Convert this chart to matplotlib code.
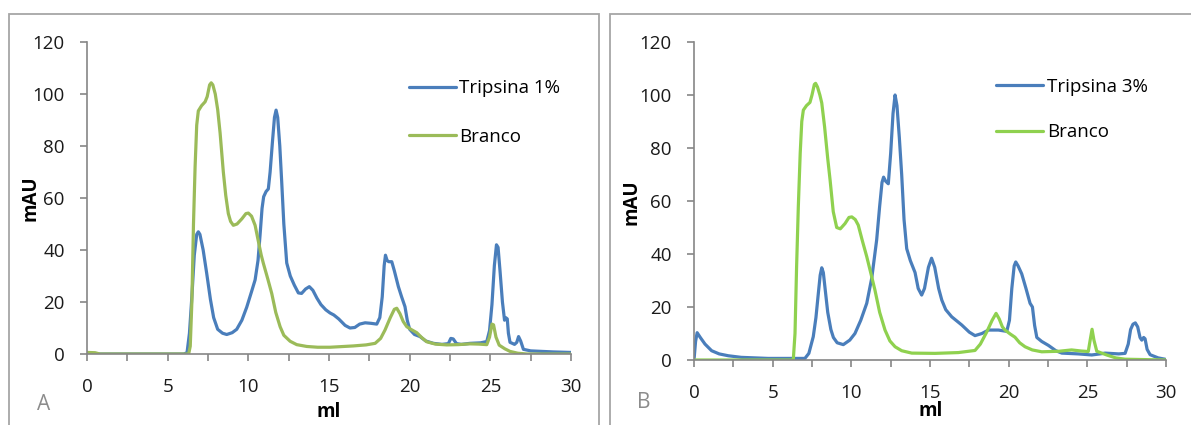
import matplotlib
matplotlib.use("Agg")
import matplotlib.pyplot as plt
from matplotlib.patches import Rectangle

plt.rcParams['font.family'] = ['Open Sans', 'DejaVu Sans']

# ---------------- Data ----------------
# Panel A: Tripsina 1%
a_tri_x = [0, 6.0, 6.2, 6.35, 6.5, 6.65, 6.8, 6.9, 7.0, 7.2, 7.42, 7.65, 7.85, 8.1, 8.4,
           8.66, 9.0, 9.28, 9.6, 9.9, 10.2, 10.42, 10.6, 10.73, 10.85, 10.95, 11.1, 11.24,
           11.35, 11.5, 11.62, 11.72, 11.82, 11.95, 12.07, 12.2, 12.38, 12.6, 12.85, 13.1,
           13.3, 13.55, 13.78, 14.0, 14.25, 14.5, 14.8, 15.06, 15.3, 15.6, 16.0, 16.3,
           16.6, 16.9, 17.24, 17.6, 17.96, 18.15, 18.3, 18.42, 18.5, 18.6, 18.7, 18.89,
           19.05, 19.3, 19.5, 19.71, 19.85, 20.0, 20.3, 20.64, 21.0, 21.47, 22.0, 22.4,
           22.55, 22.7, 22.9, 23.2, 23.74, 24.4, 24.78, 24.95, 25.1, 25.25, 25.38, 25.48,
           25.6, 25.75, 25.88, 25.95, 26.05, 26.12, 26.22, 26.5, 26.64, 26.75, 26.88,
           27.05, 27.5, 28.9, 30.0]
a_tri_y = [0, 0, 0.5, 8, 22, 38, 46, 47, 46, 40, 31, 21, 14, 9.5, 8,
           7.5, 8.2, 9.5, 13, 18, 24, 28.5, 36, 46, 56, 60.5, 62.5, 63.5,
           70, 82, 91, 93.8, 91, 80, 66, 50, 35, 30, 26.5, 23.5,
           23.3, 25, 25.9, 24.5, 21.5, 19, 17, 15.8, 15, 13.5, 11, 10,
           10.2, 11.5, 12, 11.8, 11.5, 14, 22, 34, 38, 36, 35.5, 35.5,
           32, 25.9, 22, 18.2, 13, 9.5, 7.5, 6.7, 5, 4.1, 3.7, 4,
           6, 5.8, 4, 3.7, 4.1, 4.3, 4.8, 9, 19, 34, 42, 41,
           32, 20, 13, 14, 13.5, 8, 4.5, 3.7, 4.5, 6.7, 5,
           1.8, 1.2, 0.8, 0.6]
# Panel A: Branco
a_bra_x = [0, 0.5, 0.8, 6.3, 6.4, 6.5, 6.6, 6.7, 6.8, 6.9, 7.1, 7.32, 7.45, 7.6, 7.7, 7.8,
           7.95, 8.1, 8.25, 8.45, 8.6, 8.76, 8.9, 9.07, 9.3, 9.6, 9.85, 10.0, 10.2, 10.42,
           10.6, 10.8, 10.93, 11.2, 11.45, 11.7, 11.97, 12.2, 12.59, 13.0, 13.62, 14.3,
           15.06, 16.5, 17.3, 17.86, 18.2, 18.47, 18.8, 19.05, 19.2, 19.4, 19.6, 19.82,
           20.1, 20.44, 20.75, 21.06, 21.6, 22.3, 23.0, 23.74, 24.3, 24.78, 24.95, 25.1,
           25.2, 25.35, 25.55, 25.9, 26.22, 26.7, 27.26, 30.0]
a_bra_y = [0.6, 0.5, 0, 0, 3, 20, 50, 72, 88, 93.5, 95.5, 97, 99, 103.5, 104.3, 103.5,
           100, 94, 85, 70, 61, 54, 51, 49.5, 50, 52, 54, 54.2, 53, 49.5,
           44, 38, 34.9, 29, 23.3, 16, 10.5, 7.2, 4.9, 3.6, 2.9, 2.6,
           2.6, 3.1, 3.5, 4.1, 6, 9.2, 14, 17.2, 17.6, 15.5, 12.5, 10.5,
           9.4, 8.2, 6.3, 4.7, 3.8, 3.5, 3.6, 3.9, 3.8, 3.6, 6.5, 11.5,
           11.2, 6.5, 3.4, 2, 1, 0.3, 0, 0]

# Panel B: Tripsina 3%
b_tri_x = [0, 0.1, 0.2, 0.4, 0.7, 1.12, 1.6, 2.18, 3.0, 4.72, 7.05, 7.3, 7.58, 7.75, 7.9,
           8.02, 8.12, 8.22, 8.35, 8.5, 8.7, 8.86, 9.1, 9.49, 9.9, 10.23, 10.6, 10.98,
           11.3, 11.61, 11.8, 11.95, 12.05, 12.18, 12.35, 12.5, 12.65, 12.78, 12.9, 13.05,
           13.2, 13.35, 13.52, 13.75, 14.05, 14.25, 14.47, 14.65, 14.9, 15.1, 15.3, 15.55,
           15.75, 16.0, 16.38, 17.02, 17.5, 17.86, 18.3, 18.71, 19.35, 19.88, 20.05, 20.2,
           20.35, 20.45, 20.6, 20.83, 21.1, 21.36, 21.51, 21.65, 21.79, 22.1, 22.53, 23.0,
           23.38, 24.43, 25.28, 25.8, 26.13, 27.0, 27.4, 27.6, 27.75, 27.9, 28.05, 28.2,
           28.35, 28.46, 28.58, 28.67, 28.8, 28.99, 29.5, 29.94]
b_tri_y = [0, 7, 10.3, 8.5, 6, 3.5, 2.3, 1.6, 1.0, 0.6, 0.6, 2.5, 8.8, 16, 25,
           32, 34.8, 33, 26, 18, 11.5, 8.5, 6.5, 5.8, 7.5, 10, 15, 21.4,
           31, 45.3, 58, 67, 69, 67.5, 66.5, 78, 93, 100, 96, 84,
           70, 53, 42, 37.5, 33, 27, 24.5, 27, 35, 38.4, 35, 27,
           22.6, 19, 16.3, 13.2, 10.5, 9.2, 10, 11.3, 11.3, 10.8, 15, 27,
           35.5, 37, 35.5, 32.5, 27, 21.4, 20, 13, 8.5, 7, 5.5, 3.5,
           2.6, 2.3, 1.9, 2.3, 2.6, 2.3, 2.5, 6, 11.5, 13.5, 14, 12.5,
           8.5, 7.5, 8.5, 8, 4, 2, 0.8, 0.3]
# Panel B: Branco
b_bra_x = [0, 6.31, 6.42, 6.52, 6.63, 6.75, 6.85, 6.95, 7.15, 7.37, 7.5, 7.65, 7.73, 7.85,
           8.0, 8.12, 8.3, 8.5, 8.65, 8.85, 9.07, 9.3, 9.6, 9.85, 10.03, 10.25, 10.44,
           10.7, 10.98, 11.25, 11.5, 11.8, 12.14, 12.45, 12.78, 13.2, 13.84, 15.32, 16.8,
           17.86, 18.2, 18.6, 18.95, 19.2, 19.4, 19.6, 19.77, 20.1, 20.4, 20.7, 21.04,
           21.5, 22.1, 23.2, 24.0, 24.6, 25.06, 25.18, 25.3, 25.42, 25.6, 26.23, 26.8,
           27.4, 30.0]
b_bra_y = [0, 0, 10, 35, 57.8, 78, 90, 94.3, 96, 97.2, 100, 104, 104.4, 103,
           100, 97, 88, 76, 67.9, 56, 50, 49.5, 51.5, 53.8, 54, 53, 50.9,
           45, 39, 32.5, 26.4, 18, 11.3, 7.2, 5, 3.5, 2.6, 2.5, 2.8,
           3.6, 6, 10.5, 15, 17.6, 15.5, 12.5, 11.3, 9.8, 8.6, 6.5, 5,
           3.8, 3.1, 3.3, 3.8, 3.4, 3.2, 7.5, 11.6, 7.5, 3.3, 1.9, 0.8,
           0.3, 0]

x_ticks = [0, 5, 10, 15, 20, 25, 30]
y_ticks = [0, 20, 40, 60, 80, 100, 120]

BLUE = '#4a7ebb'
GREEN_A = '#9bbb59'
GREEN_B = '#8fd14f'
AXIS_GRAY = '#868686'
FS = 13.5

W, H = 1191, 425
fig = plt.figure(figsize=(W / 100, H / 100), dpi=100)

# panel frames
for (x0, x1) in [(9, 599), (610, 1200)]:
    fig.patches.append(Rectangle((x0 / W, -0.1), (x1 - x0) / W, (H - 14) / H + 0.1,
                                 transform=fig.transFigure, fill=False,
                                 edgecolor='#a6a6a6', linewidth=1.3))


def style_axes(ax):
    ax.set_xlim(0, 30)
    ax.set_ylim(0, 120)
    ax.set_xticks(x_ticks)
    ax.set_xticks([2.5, 7.5, 12.5, 17.5, 22.5, 27.5], minor=True)
    ax.set_yticks(y_ticks)
    for s in ['top', 'right']:
        ax.spines[s].set_visible(False)
    for s in ['left', 'bottom']:
        ax.spines[s].set_color(AXIS_GRAY)
        ax.spines[s].set_linewidth(1.2)
    ax.tick_params(axis='both', which='both', direction='out', length=5,
                   width=1.2, color=AXIS_GRAY, labelsize=FS, labelcolor='#1a1a1a')
    ax.tick_params(axis='x', which='both', pad=12)
    ax.tick_params(axis='y', pad=11)
    ax.set_facecolor('none')


# Panel A
axA = fig.add_axes([87 / W, (H - 354) / H, 484 / W, 312 / H])
axA.plot(a_tri_x, a_tri_y, color=BLUE, lw=2.3, label='Tripsina 1%',
         solid_joinstyle='round', solid_capstyle='round')
axA.plot(a_bra_x, a_bra_y, color=GREEN_A, lw=2.3, label='Branco',
         solid_joinstyle='round', solid_capstyle='round')
style_axes(axA)
axA.legend(loc='upper left', bbox_to_anchor=(0.665, 0.88), frameon=False, fontsize=FS,
           handlelength=2.5, handletextpad=0.2, labelspacing=1.62, borderpad=0,
           borderaxespad=0)

# Panel B
axB = fig.add_axes([694 / W, (H - 360) / H, 472 / W, 318 / H])
axB.plot(b_tri_x, b_tri_y, color=BLUE, lw=2.3, label='Tripsina 3%',
         solid_joinstyle='round', solid_capstyle='round')
axB.plot(b_bra_x, b_bra_y, color=GREEN_B, lw=2.3, label='Branco',
         solid_joinstyle='round', solid_capstyle='round')
style_axes(axB)
axB.legend(loc='upper left', bbox_to_anchor=(0.64, 0.888), frameon=False, fontsize=FS,
           handlelength=2.5, handletextpad=0.2, labelspacing=1.47, borderpad=0,
           borderaxespad=0)

# axis titles and panel letters
fig.text(31 / W, 1 - 198 / H, 'mAU', rotation=90, ha='center', va='center',
         fontsize=FS, fontweight='bold')
fig.text(631 / W, 1 - 202 / H, 'mAU', rotation=90, ha='center', va='center',
         fontsize=FS, fontweight='bold')
fig.text(329 / W, 1 - 412 / H, 'ml', ha='center', va='center', fontsize=FS, fontweight='bold')
fig.text(931 / W, 1 - 411 / H, 'ml', ha='center', va='center', fontsize=FS, fontweight='bold')
fig.text(44 / W, 1 - 405 / H, 'A', ha='center', va='center', fontsize=15, color='#8c8c8c')
fig.text(644 / W, 1 - 403 / H, 'B', ha='center', va='center', fontsize=15, color='#8c8c8c')

fig.savefig('out.png', dpi=100)
